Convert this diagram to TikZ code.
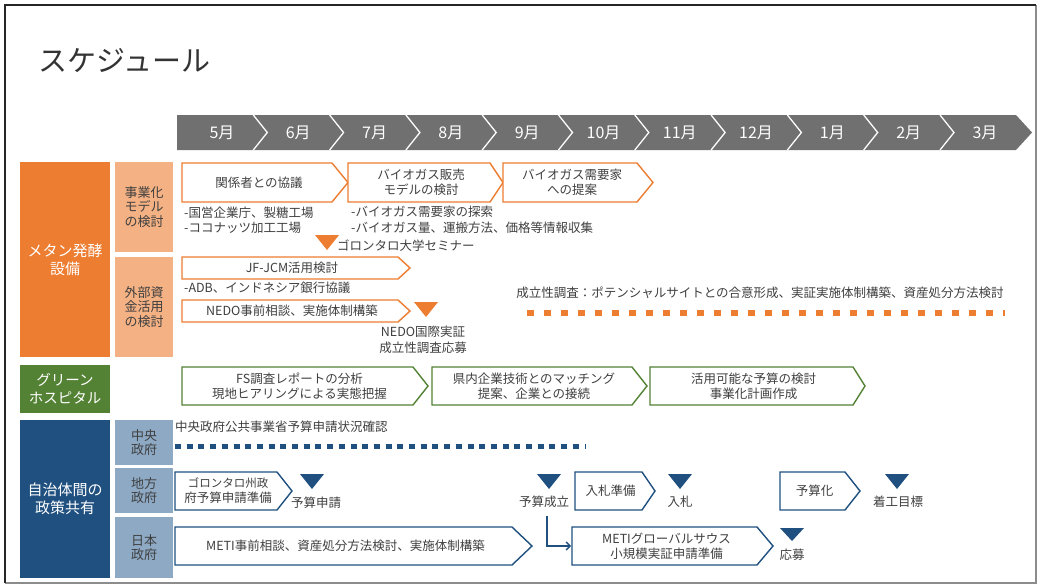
\documentclass[tikz,border=0pt]{standalone}
\usepackage{fontspec}
\setmainfont{Noto Sans CJK JP}
\usetikzlibrary{arrows.meta}
\definecolor{orangeC}{HTML}{ED7D31}
\definecolor{lightorange}{HTML}{F4B183}
\definecolor{greenC}{HTML}{548235}
\definecolor{blueC}{HTML}{1F5080}
\definecolor{subblue}{HTML}{8DA9C4}
\definecolor{monthgray}{HTML}{707070}
\definecolor{darktext}{HTML}{404040}
\newcommand{\fs}[2]{\fontsize{#1}{#2}\selectfont}
\newcommand{\chev}[8]{%
  \draw[#2, line width=1.4pt, fill=white, line join=miter] (#3,#4) -- (#5,#4) -- (#6,{(#4+#7)/2}) -- (#5,#7) -- (#3,#7) -- cycle;
  \node[chevtext] (#1) at ({(#3+#5)/2+2},{(#4+#7)/2}) {#8};}
\newcommand{\tri}[6]{% name, color, cx, ytop, w, h
  \fill[#2] ({#3-#5/2},#4) -- ({#3+#5/2},#4) -- (#3,{#4+#6}) -- cycle;
  \coordinate (#1) at (#3,{#4+#6});}
\begin{document}
\begin{tikzpicture}[x=1pt,y=-1pt,
  catlbl/.style={font=\fs{15}{18}, text=white, align=center, inner sep=0pt, minimum width=90pt},
  sublbl/.style={font=\fs{13}{14.5}, text=darktext, align=center, inner sep=0pt, minimum width=58pt},
  chevtext/.style={font=\fs{12.5}{15}, text=darktext, align=center, inner sep=0pt},
  note/.style={font=\fs{12.5}{15.5}, text=darktext, anchor=west, align=left, inner sep=0pt},
  mslbl/.style={font=\fs{12.5}{16}, text=darktext, align=center, inner sep=0pt},
  monthlbl/.style={font=\fs{16}{18}, text=white, inner sep=0pt}]
\useasboundingbox (0,0) rectangle (1040,586);
\fill[white] (0,0) rectangle (1040,586);
% frame
\draw[line width=1.2pt, black!45] (5,583) -- (1036,583) -- (1036,5);
\draw[line width=2pt, black!85] (5,583) -- (5,5) -- (1036,5);
% title
\node[anchor=west, font=\fs{29}{32}, text=black!80, inner sep=0pt] (title) at (38,61) {スケジュール};
% month bar
\fill[monthgray] (177,115) -- (1016,115) -- (1032,132.5) -- (1016,150) -- (177,150) -- cycle;
\foreach \i in {1,...,10}
  \draw[white, line width=1.3pt] ({177+76.3*\i},115) -- ({177+76.3*\i+14},132.5) -- ({177+76.3*\i},150);
\foreach \m [count=\i from 0] in {5月,6月,7月,8月,9月,10月,11月,12月,1月,2月,3月}
  \node[monthlbl] (m\i) at ({177+76.3*\i+45},132.5) {\m};
% category boxes
\node[catlbl, fill=orangeC, minimum height=195pt] (methane) at (65,259.5) {メタン発酵\\設備};
\node[sublbl, fill=lightorange, minimum height=90pt] (jigyo) at (144,207) {事業化\\モデル\\の検討};
\node[sublbl, fill=lightorange, minimum height=100pt] (gaibu) at (144,307) {外部資\\金活用\\の検討};
\node[catlbl, font=\fs{14.5}{18}, fill=greenC, minimum height=48pt] (green) at (65,389) {グリーン\\ホスピタル};
\node[catlbl, fill=blueC, minimum height=158pt] (jichi) at (65,499) {自治体間の\\政策共有};
\node[sublbl, fill=subblue, minimum height=45pt] (chuo) at (144,442.5) {中央\\政府};
\node[sublbl, fill=subblue, minimum height=45pt] (chiho) at (144,490.5) {地方\\政府};
\node[sublbl, fill=subblue, minimum height=61pt] (nihon) at (144,547.5) {日本\\政府};
% orange row
\chev{c1}{orangeC}{182}{163}{332}{348}{202}{関係者との協議}
\chev{c2}{orangeC}{348}{163}{490}{503}{202}{バイオガス販売\\モデルの検討}
\chev{c3}{orangeC}{503}{163}{637}{653}{202}{バイオガス需要家\\への提案}
\node[note] (n1) at (184,220.5) {-国営企業庁、製糖工場\\-ココナッツ加工工場};
\node[note] (n2) at (351,220) {-バイオガス需要家の探索\\-バイオガス量、運搬方法、価格等情報収集};
\tri{t1}{orangeC}{327}{235}{24}{15}
\node[note] (seminar) at (337,246) {ゴロンタロ大学セミナー};
\chev{c4}{orangeC}{182}{257}{398}{410}{279}{JF-JCM活用検討}
\node[note] (n3) at (184,288) {-ADB、インドネシア銀行協議};
\chev{c5}{orangeC}{182}{300}{398}{410}{322}{NEDO事前相談、実施体制構築}
\tri{t2}{orangeC}{426}{302}{24}{15}
\node[mslbl] (nedo) at (423,340) {NEDO国際実証\\成立性調査応募};
\node[mslbl] (fs) at (760,293) {成立性調査：ポテンシャルサイトとの合意形成、実証実施体制構築、資産処分方法検討};
\coordinate (od1) at (527,313);
\coordinate (od2) at (1005,313);
\draw[orangeC, line width=6pt, dash pattern=on 7pt off 10pt] (od1) -- (od2);
% green row
\chev{g1}{greenC}{182}{367}{413}{428}{405}{FS調査レポートの分析\\現地ヒアリングによる実態把握}
\chev{g2}{greenC}{432}{367}{632}{647}{405}{県内企業技術とのマッチング\\提案、企業との接続}
\chev{g3}{greenC}{650}{367}{853}{865}{405}{活用可能な予算の検討\\事業化計画作成}
% blue rows
\node[note] (chuotext) at (175,427) {中央政府公共事業省予算申請状況確認};
\coordinate (bd1) at (175,446);
\coordinate (bd2) at (585,446);
\draw[blueC, line width=5pt, dash pattern=on 6pt off 5.7pt] (bd1) -- (bd2);
\chev{b1}{blueC}{175}{472}{277}{292}{510}{\fs{11.5}{15}ゴロンタロ州政\\府予算申請準備}
\tri{t3}{blueC}{312}{474}{24}{15}
\node[mslbl] (shinsei) at (316,503) {予算申請};
\tri{t4}{blueC}{549}{474}{24}{15}
\node[mslbl] (seiritsu) at (544,502) {予算成立};
\chev{b2}{blueC}{575}{472}{642}{655}{510}{入札準備}
\tri{t5}{blueC}{680}{474}{24}{15}
\node[mslbl] (nyusatsu) at (680,502) {入札};
\chev{b3}{blueC}{780}{472}{845}{860}{510}{予算化}
\tri{t6}{blueC}{897}{474}{24}{15}
\node[mslbl] (chakko) at (898,502) {着工目標};
\chev{j1}{blueC}{175}{527}{512}{532}{565}{METI事前相談、資産処分方法検討、実施体制構築}
\chev{j2}{blueC}{572}{527}{757}{773}{565}{METIグローバルサウス\\小規模実証申請準備}
\coordinate (j2W) at (571,546);
\draw[blueC, line width=1.3pt, -{Straight Barb[length=4pt,width=8pt]}] ([shift={(3,8)}]seiritsu.south) |- (j2W);
\tri{t7}{blueC}{792}{528}{24}{13}
\node[mslbl] (oubo) at (792,555) {応募};
\end{tikzpicture}
\end{document}
